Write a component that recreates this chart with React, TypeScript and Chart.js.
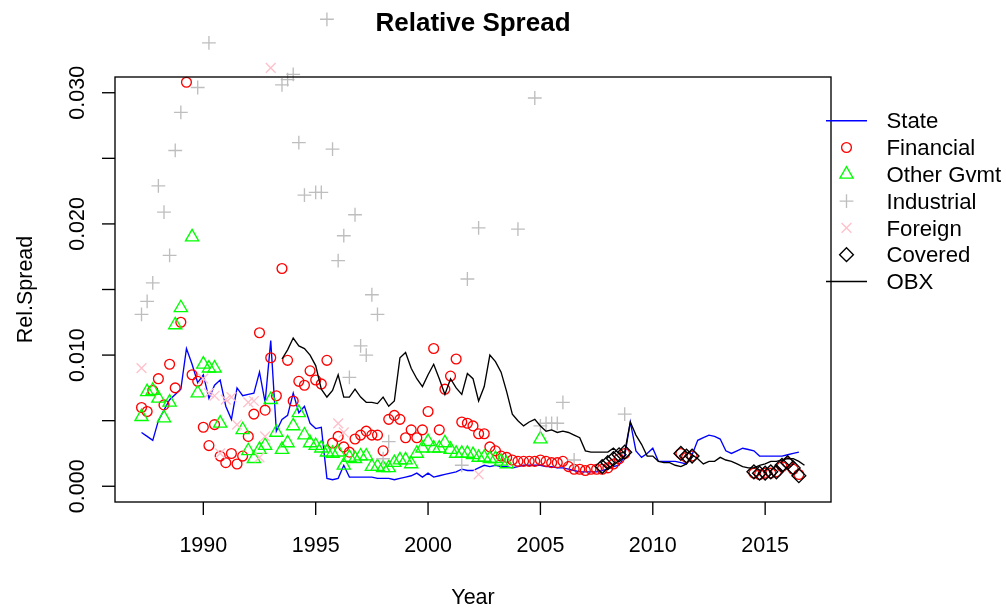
import React, { useEffect, useRef } from "react";
import { Chart, registerables } from "chart.js";

Chart.register(...registerables);

// ---------------- text ----------------
const TITLE = "Relative Spread";
const X_TITLE = "Year";
const Y_TITLE = "Rel.Spread";
const X_TICKS = [1990, 1995, 2000, 2005, 2010, 2015];
const Y_TICKS = [0, 0.005, 0.01, 0.015, 0.02, 0.025, 0.03];
const Y_TICK_LABELS = ["0.000", "", "0.010", "", "0.020", "", "0.030"];
const LEGEND_LABELS = ["State", "Financial", "Other Gvmt", "Industrial", "Foreign", "Covered", "OBX"];

// ---------------- data ----------------
const stateYears = [
  1987.25, 1987.5, 1987.75,
  1988, 1988.25, 1988.5, 1988.75,
  1989, 1989.25, 1989.5, 1989.75,
  1990, 1990.25, 1990.5, 1990.75,
  1991, 1991.25, 1991.5, 1991.75,
  1992, 1992.25, 1992.5, 1992.75,
  1993, 1993.25, 1993.5, 1993.75,
  1994, 1994.25, 1994.5, 1994.75,
  1995, 1995.25, 1995.5, 1995.75,
  1996, 1996.25, 1996.5, 1996.75,
  1997, 1997.25, 1997.5, 1997.75,
  1998, 1998.25, 1998.5, 1998.75,
  1999, 1999.25, 1999.5, 1999.75,
  2000, 2000.25, 2000.5, 2000.75,
  2001, 2001.25, 2001.5, 2001.75,
  2002, 2002.25, 2002.5, 2002.75,
  2003, 2003.25, 2003.5, 2003.75,
  2004, 2004.25, 2004.5, 2004.75,
  2005, 2005.25, 2005.5, 2005.75,
  2006, 2006.25, 2006.5, 2006.75,
  2007, 2007.25, 2007.5, 2007.75,
  2008, 2008.25, 2008.5, 2008.75,
  2009, 2009.25, 2009.5, 2009.75,
  2010, 2010.25, 2010.5, 2010.75,
  2011, 2011.25, 2011.5, 2011.75,
  2012, 2012.25, 2012.5, 2012.75,
  2013, 2013.25, 2013.5, 2013.75,
  2014, 2014.25, 2014.5, 2014.75,
  2015, 2015.25, 2015.5, 2015.75,
  2016, 2016.25, 2016.5,
];
const stateValues = [
  0.0041, 0.0038, 0.0035,
  0.0050, 0.0058, 0.0066, 0.0070,
  0.0074, 0.0105, 0.0093, 0.0079,
  0.0085, 0.0067, 0.0077, 0.0081,
  0.0061, 0.0051, 0.0075, 0.0069,
  0.0070, 0.0071, 0.0087, 0.0064,
  0.0111, 0.0042, 0.0051, 0.0054,
  0.0071, 0.0056, 0.0061, 0.0048,
  0.0044, 0.0045, 0.0006, 0.0005,
  0.0006, 0.0016, 0.0007, 0.0007,
  0.0007, 0.0007, 0.0007, 0.0006,
  0.0006, 0.0006, 0.0005, 0.0006,
  0.0007, 0.0008, 0.0010, 0.0007,
  0.0010, 0.0007, 0.0008, 0.0009,
  0.0010, 0.0011, 0.0013, 0.0012,
  0.0012, 0.0014, 0.0016, 0.0015,
  0.0016, 0.0015, 0.0015, 0.0014,
  0.0015, 0.0016, 0.0016, 0.0016,
  0.0016, 0.0015, 0.0015, 0.0014,
  0.0014, 0.0013, 0.0012, 0.0011,
  0.0011, 0.0011, 0.0011, 0.0012,
  0.0013, 0.0015, 0.0016, 0.0023,
  0.0049, 0.0027, 0.0022, 0.0025,
  0.0029, 0.0019, 0.0019, 0.0019,
  0.0019, 0.0018, 0.0017, 0.0024,
  0.0035, 0.0037, 0.0039, 0.0038,
  0.0036, 0.0027, 0.0025, 0.0027,
  0.0029, 0.0028, 0.0027, 0.0023,
  0.0023, 0.0023, 0.0023, 0.0023,
  0.0024, 0.0025, 0.0026,
];

const obxYears = [
  1993.5, 1993.75,
  1994, 1994.25, 1994.5, 1994.75,
  1995, 1995.25, 1995.5, 1995.75,
  1996, 1996.25, 1996.5, 1996.75,
  1997, 1997.25, 1997.5, 1997.75,
  1998, 1998.25, 1998.5, 1998.75,
  1999, 1999.25, 1999.5, 1999.75,
  2000, 2000.25, 2000.5, 2000.75,
  2001, 2001.25, 2001.5, 2001.75,
  2002, 2002.25, 2002.5, 2002.75,
  2003, 2003.25, 2003.5, 2003.75,
  2004, 2004.25, 2004.5, 2004.75,
  2005, 2005.25, 2005.5, 2005.75,
  2006, 2006.25, 2006.5, 2006.75,
  2007, 2007.25, 2007.5, 2007.75,
  2008, 2008.25, 2008.5, 2008.75,
  2009, 2009.25, 2009.5, 2009.75,
  2010, 2010.25, 2010.5, 2010.75,
  2011, 2011.25, 2011.5, 2011.75,
  2012, 2012.25, 2012.5, 2012.75,
  2013, 2013.25, 2013.5, 2013.75,
  2014, 2014.25, 2014.5, 2014.75,
  2015, 2015.25, 2015.5, 2015.75,
  2016, 2016.25, 2016.5, 2016.75,
];
const obxValues = [
  0.0097, 0.0104,
  0.0113, 0.0107, 0.0105, 0.0100,
  0.0092, 0.0074, 0.0068, 0.0073,
  0.0085, 0.0068, 0.0068, 0.0074,
  0.0068, 0.0064, 0.0064, 0.0063,
  0.0068, 0.0061, 0.0065, 0.0098,
  0.0102, 0.0090, 0.0082, 0.0076,
  0.0085, 0.0093, 0.0082, 0.0070,
  0.0082, 0.0075, 0.0070, 0.0086,
  0.0082, 0.0065, 0.0076, 0.0100,
  0.0095, 0.0087, 0.0072, 0.0055,
  0.0050, 0.0046, 0.0049, 0.0051,
  0.0046, 0.0042, 0.0043, 0.0041,
  0.0042, 0.0041, 0.0039, 0.0037,
  0.0027, 0.0026, 0.0026, 0.0026,
  0.0026, 0.0029, 0.0025, 0.0026,
  0.0049, 0.0039, 0.0032, 0.0023,
  0.0023, 0.0019, 0.0018, 0.0018,
  0.0016, 0.0015, 0.0017, 0.0024,
  0.0021, 0.0017, 0.0019, 0.0019,
  0.0022, 0.0020, 0.0019, 0.0017,
  0.0015, 0.0014, 0.0014, 0.0016,
  0.0017, 0.0019, 0.0019, 0.0020,
  0.0021, 0.0021, 0.0019, 0.0016,
];

const financialYears = [
  1987.25, 1987.5, 1987.75,
  1988, 1988.25, 1988.5, 1988.75,
  1989, 1989.25, 1989.5, 1989.75,
  1990, 1990.25, 1990.5, 1990.75,
  1991, 1991.25, 1991.5, 1991.75,
  1992, 1992.25, 1992.5, 1992.75,
  1993, 1993.25, 1993.5, 1993.75,
  1994, 1994.25, 1994.5, 1994.75,
  1995, 1995.25, 1995.5, 1995.75,
  1996, 1996.25, 1996.5, 1996.75,
  1997, 1997.25, 1997.5, 1997.75,
  1998, 1998.25, 1998.5, 1998.75,
  1999, 1999.25, 1999.5, 1999.75,
  2000, 2000.25, 2000.5, 2000.75,
  2001, 2001.25, 2001.5, 2001.75,
  2002, 2002.25, 2002.5, 2002.75,
  2003, 2003.25, 2003.5, 2003.75,
  2004, 2004.25, 2004.5, 2004.75,
  2005, 2005.25, 2005.5, 2005.75,
  2006, 2006.25, 2006.5, 2006.75,
  2007, 2007.25, 2007.5, 2007.75,
  2008, 2008.25, 2008.5, 2008.75,
  2011.25, 2011.5, 2011.75,
  2014.5, 2014.75,
  2015, 2015.25, 2015.5, 2015.75,
  2016, 2016.25, 2016.5,
];
const financialValues = [
  0.0060, 0.0057, 0.0073,
  0.0082, 0.0062, 0.0093, 0.0075,
  0.0125, 0.0308, 0.0085, 0.0080,
  0.0045, 0.0031, 0.0047, 0.0023,
  0.0018, 0.0025, 0.0017, 0.0023,
  0.0038, 0.0055, 0.0117, 0.0058,
  0.0098, 0.0069, 0.0166, 0.0096,
  0.0065, 0.0080, 0.0077, 0.0088,
  0.0081, 0.0078, 0.0096, 0.0033,
  0.0038, 0.0030, 0.0026, 0.0036,
  0.0039, 0.0042, 0.0039, 0.0039,
  0.0027, 0.0051, 0.0054, 0.0051,
  0.0037, 0.0043, 0.0037, 0.0043,
  0.0057, 0.0105, 0.0043, 0.0074,
  0.0084, 0.0097, 0.0049, 0.0048,
  0.0046, 0.0040, 0.0040, 0.0030,
  0.0027, 0.0023, 0.0022, 0.0020,
  0.0019, 0.0019, 0.0019, 0.0019,
  0.0020, 0.0019, 0.0018, 0.0018,
  0.0019, 0.0015, 0.0013, 0.0013,
  0.0012, 0.0013, 0.0013, 0.0013,
  0.0014, 0.0017, 0.0021, 0.0025,
  0.0025, 0.0022, 0.0023,
  0.0010, 0.0009,
  0.0010, 0.0010, 0.0011, 0.0015,
  0.0018, 0.0013, 0.0009,
];

const otherGvmtYears = [
  1987.25, 1987.5, 1987.75,
  1988, 1988.25, 1988.5, 1988.75,
  1989, 1989.5, 1989.75,
  1990, 1990.25, 1990.5, 1990.75,
  1991.75,
  1992, 1992.25, 1992.5, 1992.75,
  1993, 1993.25, 1993.5, 1993.75,
  1994, 1994.25, 1994.5, 1994.75,
  1995, 1995.25, 1995.5, 1995.75,
  1996, 1996.25, 1996.5, 1996.75,
  1997, 1997.25, 1997.5, 1997.75,
  1998, 1998.25, 1998.5, 1998.75,
  1999, 1999.25, 1999.5, 1999.75,
  2000, 2000.25, 2000.5, 2000.75,
  2001, 2001.25, 2001.5, 2001.75,
  2002, 2002.25, 2002.5, 2002.75,
  2003, 2003.25, 2003.5,
  2005,
];
const otherGvmtValues = [
  0.0053, 0.0072, 0.0073,
  0.0067, 0.0052, 0.0064, 0.0123,
  0.0136, 0.0190, 0.0071,
  0.0093, 0.0090, 0.0090, 0.0048,
  0.0043,
  0.0027, 0.0021, 0.0028, 0.0031,
  0.0066, 0.0041, 0.0028, 0.0033,
  0.0046, 0.0056, 0.0039, 0.0033,
  0.0031, 0.0029, 0.0026, 0.0025,
  0.0026, 0.0016, 0.0022, 0.0021,
  0.0023, 0.0023, 0.0015, 0.0015,
  0.0014, 0.0014, 0.0018, 0.0020,
  0.0020, 0.0017, 0.0025, 0.0029,
  0.0034, 0.0029, 0.0029, 0.0033,
  0.0028, 0.0025, 0.0025, 0.0025,
  0.0024, 0.0022, 0.0022, 0.0021,
  0.0021, 0.0019, 0.0017,
  0.0036,
];

const industrialYears = [
  1987.25, 1987.5, 1987.75,
  1988, 1988.25, 1988.5, 1988.75,
  1989, 1989.75, 1990.25,
  1993.5, 1993.75, 1994, 1994.25, 1994.5,
  1995, 1995.25, 1995.5, 1995.75,
  1996, 1996.25, 1996.5, 1996.75,
  1997, 1997.25, 1997.5, 1997.75,
  1998, 1998.25,
  2001.5, 2001.75, 2002.25,
  2004, 2004.75,
  2005, 2005.25, 2005.5, 2005.75,
  2006, 2006.5, 2008.75,
];
const industrialValues = [
  0.0131, 0.0141, 0.0155,
  0.0229, 0.0209, 0.0176, 0.0256,
  0.0285, 0.0304, 0.0338,
  0.0306, 0.0310, 0.0314, 0.0262, 0.0222,
  0.0224, 0.0224, 0.0356, 0.0257,
  0.0172, 0.0191, 0.0083, 0.0207,
  0.0107, 0.0100, 0.0146, 0.0131,
  0.0021, 0.0034,
  0.0016, 0.0158, 0.0197,
  0.0196, 0.0296,
  0.0046, 0.0048, 0.0048, 0.0048,
  0.0064, 0.0020, 0.0055,
];

const foreignYears = [
  1987.25,
  1990, 1990.25, 1990.5, 1990.75,
  1991, 1991.25, 1991.5,
  1992, 1992.25, 1992.5, 1992.75,
  1993,
  1996, 1996.25,
  2002.25,
];
const foreignValues = [
  0.0090,
  0.0082, 0.0071, 0.0069, 0.0025,
  0.0066, 0.0068, 0.0047,
  0.0064, 0.0065, 0.0022, 0.0038,
  0.0319,
  0.0048, 0.0041,
  0.0009,
];

const coveredYears = [
  2007.75, 2008, 2008.25, 2008.5, 2008.75,
  2011.25, 2011.5, 2011.75,
  2014.5, 2014.75,
  2015, 2015.25, 2015.5, 2015.75,
  2016, 2016.25, 2016.5,
];
const coveredValues = [
  0.0015, 0.0018, 0.0021, 0.0024, 0.0026,
  0.0025, 0.0023, 0.0023,
  0.0011, 0.0010,
  0.0010, 0.0011, 0.0011, 0.0016,
  0.0018, 0.0014, 0.0008,
];

// ---------------- layout / style ----------------
const W = 1006;
const H = 610;
const FONT = "'Liberation Sans', Arial, Helvetica, sans-serif";
const FS = 21.5;
const FS_LEGEND = 22.2;
const BOX_LEFT = 115;
const BOX_RIGHT = 831;
const BOX_TOP = 77;
const BOX_BOTTOM = 502;
const AREA_TOP = 10;
const X_MIN = 1986.07;
const X_MAX = 2017.93;
const Y_MIN = -0.0012;
const Y_BOX_MAX = 0.0312;
const Y_MAX = Y_MIN + ((BOX_BOTTOM - AREA_TOP) * (Y_BOX_MAX - Y_MIN)) / (BOX_BOTTOM - BOX_TOP);

const LW = 1.35;
const COL = {
  state: "#0000FF",
  financial: "#FF0000",
  other: "#00FF00",
  industrial: "#BEBEBE",
  foreign: "#FFC0CB",
  covered: "#000000",
  obx: "#000000",
};
const R_CIRCLE = 4.9;
const R_TRI = 7.6;
const R_PLUS = 6.9;
const R_X = 6.9;
const R_DIAM = 6.9;

function pts(xs: number[], ys: number[]) {
  return xs.map((x, i) => ({ x, y: ys[i] }));
}

function drawMarker(ctx: CanvasRenderingContext2D, kind: string, x: number, y: number, color: string) {
  ctx.save();
  ctx.strokeStyle = color;
  ctx.lineWidth = LW;
  ctx.beginPath();
  if (kind === "circle") {
    ctx.arc(x, y, R_CIRCLE, 0, Math.PI * 2);
  } else if (kind === "triangle") {
    const r = R_TRI;
    for (let k = 0; k < 3; k++) {
      const a = (k * 2 * Math.PI) / 3;
      const px = x + Math.sin(a) * r;
      const py = y - Math.cos(a) * r;
      if (k === 0) ctx.moveTo(px, py);
      else ctx.lineTo(px, py);
    }
    ctx.closePath();
  } else if (kind === "plus") {
    ctx.moveTo(x - R_PLUS, y);
    ctx.lineTo(x + R_PLUS, y);
    ctx.moveTo(x, y - R_PLUS);
    ctx.lineTo(x, y + R_PLUS);
  } else if (kind === "x") {
    const d = R_X * Math.SQRT1_2;
    ctx.moveTo(x - d, y - d);
    ctx.lineTo(x + d, y + d);
    ctx.moveTo(x - d, y + d);
    ctx.lineTo(x + d, y - d);
  } else if (kind === "diamond") {
    ctx.moveTo(x - R_DIAM, y);
    ctx.lineTo(x, y - R_DIAM);
    ctx.lineTo(x + R_DIAM, y);
    ctx.lineTo(x, y + R_DIAM);
    ctx.closePath();
  }
  ctx.stroke();
  ctx.restore();
}

const LEGEND_STYLE = [
  { kind: "line", color: COL.state },
  { kind: "circle", color: COL.financial },
  { kind: "triangle", color: COL.other },
  { kind: "plus", color: COL.industrial },
  { kind: "x", color: COL.foreign },
  { kind: "diamond", color: COL.covered },
  { kind: "line", color: COL.obx },
];

const rDecor = {
  id: "rDecor",
  afterDraw(chart: any) {
    const ctx: CanvasRenderingContext2D = chart.ctx;
    const xs = chart.scales.x;
    const ys = chart.scales.y;
    const left = chart.chartArea.left;
    const right = chart.chartArea.right;
    const bottom = chart.chartArea.bottom;
    const top = ys.getPixelForValue(Y_BOX_MAX);
    ctx.save();
    ctx.strokeStyle = "#000";
    ctx.fillStyle = "#000";
    ctx.lineWidth = LW;
    ctx.strokeRect(left, top, right - left, bottom - top);

    ctx.font = `${FS}px ${FONT}`;
    // x axis
    ctx.textAlign = "center";
    ctx.textBaseline = "alphabetic";
    X_TICKS.forEach((t) => {
      const px = xs.getPixelForValue(t);
      ctx.beginPath();
      ctx.moveTo(px, bottom);
      ctx.lineTo(px, bottom + 13);
      ctx.stroke();
      ctx.fillText(String(t), px, bottom + 50);
    });
    ctx.fillText(X_TITLE, (left + right) / 2, bottom + 102);

    // y axis
    Y_TICKS.forEach((t, i) => {
      const py = ys.getPixelForValue(t);
      ctx.beginPath();
      ctx.moveTo(left, py);
      ctx.lineTo(left - 13, py);
      ctx.stroke();
      if (Y_TICK_LABELS[i]) {
        ctx.save();
        ctx.translate(left - 31.2, py);
        ctx.rotate(-Math.PI / 2);
        ctx.fillText(Y_TICK_LABELS[i], 0, 0);
        ctx.restore();
      }
    });
    ctx.save();
    ctx.translate(left - 83.2, (top + bottom) / 2);
    ctx.rotate(-Math.PI / 2);
    ctx.fillText(Y_TITLE, 0, 0);
    ctx.restore();

    // title
    ctx.font = `bold 26px ${FONT}`;
    ctx.fillText(TITLE, (left + right) / 2, 31);

    // legend
    ctx.font = `${FS_LEGEND}px ${FONT}`;
    ctx.textAlign = "left";
    LEGEND_LABELS.forEach((lab, i) => {
      const y = 120.7 + i * 26.8;
      const st = LEGEND_STYLE[i];
      if (st.kind === "line") {
        ctx.save();
        ctx.strokeStyle = st.color;
        ctx.lineWidth = LW;
        ctx.beginPath();
        ctx.moveTo(826, y);
        ctx.lineTo(867, y);
        ctx.stroke();
        ctx.restore();
      } else {
        drawMarker(ctx, st.kind, 846.5, y, st.color);
      }
      ctx.fillStyle = "#000";
      ctx.fillText(lab, 886.5, y + 7.6);
    });
    ctx.restore();
  },
};

export default function App() {
  const ref = useRef<HTMLCanvasElement | null>(null);
  useEffect(() => {
    if (!ref.current) return;
    const pointDs = (label: string, xs: number[], ys: number[], style: string, radius: number, color: string, order: number) => ({
      label,
      data: pts(xs, ys),
      showLine: false,
      pointStyle: style,
      pointRadius: radius,
      pointHoverRadius: radius,
      pointBorderColor: color,
      pointBackgroundColor: "rgba(0,0,0,0)",
      pointBorderWidth: LW,
      pointHoverBorderWidth: LW,
      borderColor: color,
      backgroundColor: "rgba(0,0,0,0)",
      clip: false as any,
      order,
    });
    const lineDs = (label: string, xs: number[], ys: number[], color: string, order: number) => ({
      label,
      data: pts(xs, ys),
      showLine: true,
      borderColor: color,
      borderWidth: LW,
      pointRadius: 0,
      pointHoverRadius: 0,
      backgroundColor: color,
      tension: 0,
      fill: false,
      clip: false as any,
      order,
    });
    const chart = new Chart(ref.current, {
      type: "scatter",
      data: {
        datasets: [
          lineDs("State", stateYears, stateValues, COL.state, 7),
          pointDs("Financial", financialYears, financialValues, "circle", R_CIRCLE, COL.financial, 6),
          pointDs("Other Gvmt", otherGvmtYears, otherGvmtValues, "triangle", R_TRI, COL.other, 5),
          pointDs("Industrial", industrialYears, industrialValues, "cross", R_PLUS, COL.industrial, 4),
          pointDs("Foreign", foreignYears, foreignValues, "crossRot", R_X, COL.foreign, 3),
          pointDs("Covered", coveredYears, coveredValues, "rectRot", R_DIAM, COL.covered, 2),
          lineDs("OBX", obxYears, obxValues, COL.obx, 1),
        ] as any,
      },
      options: {
        animation: false,
        responsive: false,
        devicePixelRatio: 1,
        events: [],
        layout: {
          padding: { left: BOX_LEFT, right: W - BOX_RIGHT, top: AREA_TOP, bottom: H - BOX_BOTTOM },
        },
        plugins: { legend: { display: false }, tooltip: { enabled: false }, title: { display: false } },
        scales: {
          x: { type: "linear", min: X_MIN, max: X_MAX, display: false },
          y: { type: "linear", min: Y_MIN, max: Y_MAX, display: false },
        },
      },
      plugins: [rDecor],
    });
    return () => chart.destroy();
  }, []);
  return (
    <div style={{ position: "absolute", left: 0, top: 0, width: W, height: H, background: "#fff" }}>
      <canvas ref={ref} width={W} height={H} style={{ width: W, height: H, display: "block" }} />
    </div>
  );
}
